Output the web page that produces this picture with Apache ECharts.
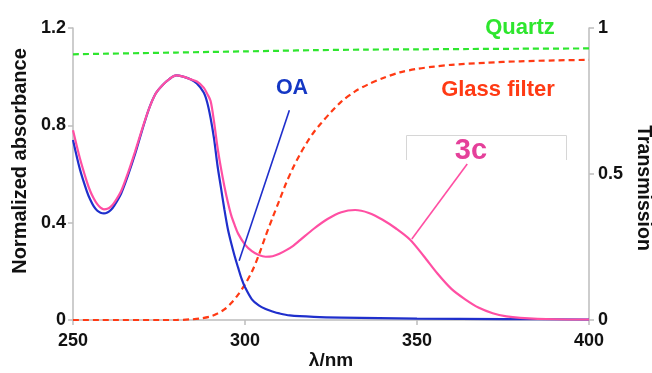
<!DOCTYPE html>
<html>
<head>
<meta charset="utf-8">
<script src="https://cdn.jsdelivr.net/npm/echarts@6/dist/echarts.min.js"></script>
<style>
  html, body { margin: 0; padding: 0; background: #fff; }
  #chart { width: 652px; height: 373px; }
</style>
</head>
<body>
<div id="chart"></div>
<script>
// Wavelength grids (nm)
const wlOA = [250, 252, 254, 255, 256, 257, 258, 259, 260, 261, 262, 264, 266, 268, 270, 272, 274, 276, 278, 280, 282, 284, 286, 288, 289, 290, 291, 292, 293, 294, 295, 296, 297, 298, 299, 300, 302, 304, 306, 308, 310, 313, 320, 328, 350, 375, 400];
const absOA = [0.74, 0.62, 0.53, 0.495, 0.468, 0.45, 0.441, 0.438, 0.442, 0.452, 0.47, 0.52, 0.595, 0.68, 0.775, 0.865, 0.93, 0.965, 0.99, 1.005, 1.0, 0.99, 0.972, 0.935, 0.895, 0.83, 0.745, 0.635, 0.545, 0.455, 0.375, 0.315, 0.262, 0.215, 0.17, 0.135, 0.085, 0.06, 0.045, 0.035, 0.027, 0.019, 0.013, 0.01, 0.006, 0.004, 0.002];

const wl3c = [250, 252, 254, 255, 256, 257, 258, 259, 260, 261, 262, 264, 266, 268, 270, 272, 274, 276, 278, 280, 282, 284, 286, 288, 289, 290, 291, 292, 293, 294, 295, 296, 297, 298, 300, 302, 304, 306, 308, 310, 312, 314, 316, 320, 324, 328, 332, 336, 340, 344, 348, 352, 356, 360, 364, 368, 372, 376, 380, 390, 400];
const abs3c = [0.78, 0.665, 0.57, 0.53, 0.5, 0.477, 0.462, 0.455, 0.457, 0.466, 0.482, 0.53, 0.605, 0.69, 0.78, 0.865, 0.93, 0.965, 0.99, 1.005, 1.0, 0.99, 0.98, 0.955, 0.93, 0.9, 0.815, 0.71, 0.625, 0.55, 0.485, 0.43, 0.39, 0.355, 0.31, 0.283, 0.267, 0.26, 0.262, 0.272, 0.287, 0.305, 0.328, 0.375, 0.415, 0.443, 0.452, 0.44, 0.412, 0.375, 0.33, 0.262, 0.19, 0.128, 0.085, 0.05, 0.028, 0.015, 0.009, 0.003, 0.002];

const wlQuartz = [250, 260, 270, 280, 290, 300, 310, 320, 335, 350, 365, 380, 400];
const transQuartz = [0.91, 0.912, 0.914, 0.916, 0.918, 0.92, 0.922, 0.924, 0.926, 0.927, 0.928, 0.929, 0.93];

const wlGlass = [250, 280, 284, 287, 290, 292, 294, 296, 298, 300, 302, 304, 306, 308, 310, 312, 314, 316, 318, 320, 322, 325, 328, 332, 336, 340, 345, 350, 355, 360, 370, 380, 390, 400];
const transGlass = [0, 0, 0.002, 0.005, 0.012, 0.022, 0.036, 0.058, 0.087, 0.122, 0.165, 0.222, 0.288, 0.35, 0.41, 0.47, 0.522, 0.568, 0.608, 0.643, 0.672, 0.712, 0.748, 0.783, 0.808, 0.828, 0.848, 0.86, 0.868, 0.874, 0.881, 0.886, 0.889, 0.891];

// Axis ticks
const xTicks = { min: 250, max: 400, step: 50 };
const absTicks = { min: 0, max: 1.2, step: 0.4 };
const transTicks = { min: 0, max: 1, step: 0.5 };

// Pointer lines from the labels to their curves, in (nm, absorbance)
const pointerOA = [[298.3, 0.243], [312.9, 0.862]];
const pointer3c = [[348.5, 0.333], [364.6, 0.641]];

const zip = (xs, ys) => xs.map((x, i) => [x, ys[i]]);

const FONT = '"Liberation Sans", Arial, sans-serif';
const C_OA = '#1f2fcc';
const C_3C = '#ff4fa3';
const C_GLASS = '#ff3a14';
const C_QUARTZ = '#2ee62e';
const AXIS_GRAY = '#bdbdbd';

const chart = echarts.init(document.getElementById('chart'), null, { renderer: 'canvas' });

const pointer = (pts, color) => ({
  silent: true,
  symbol: ['none', 'none'],
  label: { show: false },
  lineStyle: { color: color, width: 1.6, type: 'solid' },
  data: [[{ coord: pts[0] }, { coord: pts[1] }]]
});

const axisLabelStyle = { color: '#111', fontSize: 18, fontWeight: 'bold', fontFamily: FONT };

chart.setOption({
  animation: false,
  backgroundColor: '#fff',
  grid: { left: 73, right: 63, top: 28, bottom: 53 },
  xAxis: {
    type: 'value',
    min: xTicks.min, max: xTicks.max, interval: xTicks.step,
    axisLine: { show: true, lineStyle: { color: AXIS_GRAY, width: 1.5 } },
    axisTick: { show: true, length: 5, lineStyle: { color: AXIS_GRAY, width: 1.5 } },
    splitLine: { show: false },
    axisLabel: Object.assign({ margin: 12 }, axisLabelStyle)
  },
  yAxis: [
    {
      type: 'value',
      min: absTicks.min, max: absTicks.max, interval: absTicks.step,
      axisLine: { show: true, lineStyle: { color: AXIS_GRAY, width: 1.5 } },
      axisTick: { show: true, length: 5, lineStyle: { color: AXIS_GRAY, width: 1.5 } },
      splitLine: { show: false },
      axisLabel: Object.assign({ margin: 7, formatter: v => String(+v.toFixed(1)) }, axisLabelStyle)
    },
    {
      type: 'value', position: 'right',
      min: transTicks.min, max: transTicks.max, interval: transTicks.step,
      axisLine: { show: true, lineStyle: { color: AXIS_GRAY, width: 1.5 } },
      axisTick: { show: true, length: 5, lineStyle: { color: AXIS_GRAY, width: 1.5 } },
      splitLine: { show: false },
      axisLabel: Object.assign({ margin: 9, formatter: v => String(+v.toFixed(1)) }, axisLabelStyle)
    }
  ],
  series: [
    {
      name: 'Quartz', type: 'line', yAxisIndex: 1, data: zip(wlQuartz, transQuartz),
      showSymbol: false, smooth: 0.3,
      lineStyle: { color: C_QUARTZ, width: 2.2, type: [6, 4] }
    },
    {
      name: 'Glass filter', type: 'line', yAxisIndex: 1, data: zip(wlGlass, transGlass),
      showSymbol: false, smooth: 0.3,
      lineStyle: { color: C_GLASS, width: 2.2, type: [6, 4] }
    },
    {
      name: 'OA', type: 'line', yAxisIndex: 0, data: zip(wlOA, absOA),
      showSymbol: false, smooth: 0.3,
      lineStyle: { color: C_OA, width: 2.2 },
      markLine: pointer(pointerOA, C_OA)
    },
    {
      name: '3c', type: 'line', yAxisIndex: 0, data: zip(wl3c, abs3c),
      showSymbol: false, smooth: 0.3,
      lineStyle: { color: C_3C, width: 2.2 },
      markLine: pointer(pointer3c, C_3C)
    }
  ],
  graphic: [
    // Axis titles
    { type: 'text', position: [20, 161], rotation: Math.PI / 2,
      style: { text: 'Normalized absorbance', fill: '#111', font: 'bold 20px ' + FONT, textAlign: 'center', textVerticalAlign: 'middle' } },
    { type: 'text', position: [643, 188], rotation: -Math.PI / 2,
      style: { text: 'Transmission', fill: '#111', font: 'bold 19.5px ' + FONT, textAlign: 'center', textVerticalAlign: 'middle' } },
    { type: 'text', position: [331, 361],
      style: { text: 'λ/nm', fill: '#111', font: 'bold 19px ' + FONT, textAlign: 'center', textVerticalAlign: 'middle' } },
    // Curve labels
    { type: 'text', position: [520, 28],
      style: { text: 'Quartz', fill: '#2ee62e', font: 'bold 22px ' + FONT, textAlign: 'center', textVerticalAlign: 'middle' } },
    { type: 'text', position: [498, 90],
      style: { text: 'Glass filter', fill: '#ff3a14', font: 'bold 22px ' + FONT, textAlign: 'center', textVerticalAlign: 'middle' } },
    { type: 'text', position: [292, 88],
      style: { text: 'OA', fill: '#1437c4', font: 'bold 21.5px ' + FONT, textAlign: 'center', textVerticalAlign: 'middle' } },
    { type: 'text', position: [471, 151],
      style: { text: '3c', fill: '#e5409a', font: 'bold 29px ' + FONT, textAlign: 'center', textVerticalAlign: 'middle' } },
    // Light bracket behind the 3c label
    { type: 'polyline', silent: true,
      shape: { points: [[406.5, 160], [406.5, 135.5], [566.5, 135.5], [566.5, 160]] },
      style: { stroke: '#d6d6d6', lineWidth: 1, fill: null } }
  ]
});
</script>
</body>
</html>
